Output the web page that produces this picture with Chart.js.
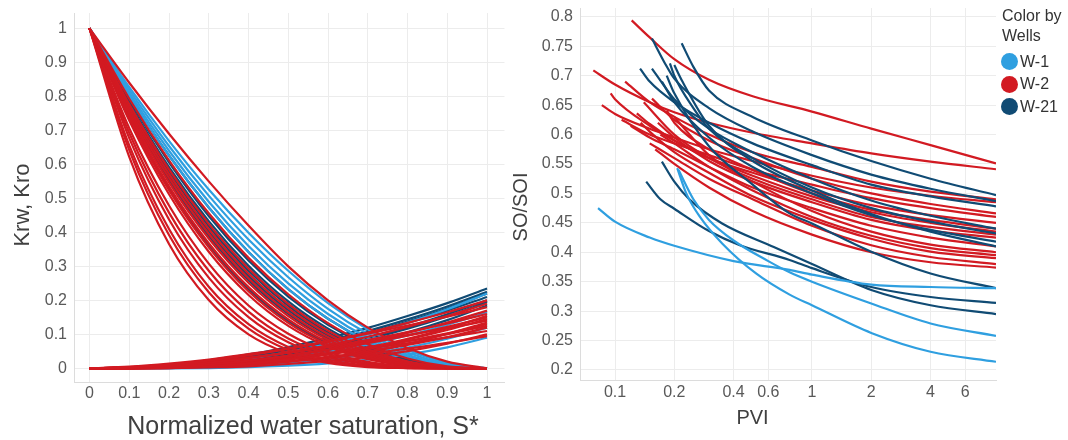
<!DOCTYPE html>
<html>
<head>
<meta charset="utf-8">
<title>Relative permeability and SO/SOI by well</title>
<script src="https://cdn.jsdelivr.net/npm/chart.js@4.4.1/dist/chart.umd.min.js"></script>
<style>
  html, body { margin: 0; padding: 0; background: #fff; }
  #wrap { position: relative; width: 1068px; height: 440px; overflow: hidden; font-family: 'Liberation Sans', Arial, sans-serif; }
  #kr-box { position: absolute; left: 0; top: 0; }
  #so-box { position: absolute; left: 500px; top: 0; }
  #legend { position: absolute; left: 1002px; top: 6px; font-size: 16px; color: #333; }
  #legend .head { line-height: 20px; }
  #legend .items { margin-top: 4.5px; }
  #legend .item { display: flex; align-items: center; height: 22.5px; margin-left: -1px; }
  #legend .dot { width: 17px; height: 17px; border-radius: 50%; margin-right: 2px; }
</style>
</head>
<body>
<div id="wrap">
  <div id="kr-box"><canvas id="kr-chart" width="510" height="440"></canvas></div>
  <div id="so-box"><canvas id="so-chart" width="568" height="440"></canvas></div>
  <div id="legend"></div>
</div>
<script>
// left chart: normalized water saturation samples and tick values
const satX = [0, 0.1, 0.2, 0.3, 0.4, 0.5, 0.6, 0.7, 0.8, 0.9, 1];
const satTicks = [0, 0.1, 0.2, 0.3, 0.4, 0.5, 0.6, 0.7, 0.8, 0.9, 1];
const kTicks = [0, 0.1, 0.2, 0.3, 0.4, 0.5, 0.6, 0.7, 0.8, 0.9, 1];

// right chart ticks
const pviTicks = [0.1, 0.2, 0.4, 0.6, 1, 2, 4, 6];
const soTicks = [0.2, 0.25, 0.3, 0.35, 0.4, 0.45, 0.5, 0.55, 0.6, 0.65, 0.7, 0.75, 0.8];

const wells = ['W-1', 'W-2', 'W-21'];

// Kro (oil) curves read at satX
const kroW1 = [
  [1, .827, .669, .526, .399, .287, .192, .115, .055, .016, 0],
  [1, .819, .654, .508, .379, .268, .175, .102, .047, .013, 0],
  [1, .81, .64, .49, .36, .25, .16, .09, .04, .01, 0],
  [1, .802, .626, .473, .342, .233, .146, .080, .034, .008, 0]
];
const kroW21 = [
  [1, .802, .626, .473, .342, .233, .146, .080, .034, .008, 0],
  [1, .789, .606, .448, .317, .211, .128, .067, .027, .006, 0],
  [1, .781, .592, .433, .302, .197, .117, .060, .023, .005, 0],
  [1, .773, .579, .418, .287, .184, .106, .053, .020, .004, 0],
  [1, .764, .566, .403, .272, .171, .097, .047, .017, .003, 0],
  [1, .756, .554, .389, .259, .160, .088, .042, .014, .002, 0],
  [1, .741, .530, .362, .233, .139, .074, .033, .010, .002, 0]
];
const kroW2 = [
  [1, .84, .69, .55, .42, .30, .20, .12, .06, .02, 0],
  [1, .793, .612, .456, .325, .218, .133, .071, .029, .006, 0],
  [1, .777, .585, .425, .294, .19, .111, .056, .021, .004, 0],
  [1, .768, .572, .410, .279, .177, .101, .049, .018, .003, 0],
  [1, .760, .560, .396, .265, .165, .092, .044, .015, .003, 0],
  [1, .752, .547, .382, .252, .154, .084, .039, .013, .002, 0],
  [1, .745, .535, .368, .239, .144, .077, .034, .011, .002, 0],
  [1, .737, .524, .356, .227, .134, .070, .031, .009, .001, 0],
  [1, .729, .512, .343, .216, .125, .064, .027, .008, .001, 0],
  [1, .706, .479, .308, .185, .102, .049, .019, .005, .001, 0],
  [1, .692, .458, .287, .167, .088, .041, .015, .004, 0, 0],
  [1, .677, .438, .267, .151, .077, .034, .012, .003, 0, 0],
  [1, .656, .410, .240, .130, .063, .026, .008, .002, 0, 0],
  [1, .642, .392, .224, .117, .054, .021, .006, .001, 0, 0],
  [1, .622, .366, .201, .100, .044, .016, .004, .001, 0, 0]
];

// Krw (water) curves read at satX
const krwW1 = [
  [0, .001, .006, .016, .029, .048, .072, .100, .135, .174, .22],
  [0, .001, .003, .009, .018, .031, .049, .070, .097, .128, .165],
  [0, 0, .001, .003, .008, .015, .026, .041, .061, .087, .12],
  [0, 0, 0, .001, .004, .008, .015, .026, .041, .062, .09]
];
const krwW21 = [
  [0, .003, .011, .024, .041, .063, .089, .119, .154, .192, .235],
  [0, .002, .009, .020, .036, .056, .081, .110, .144, .182, .225],
  [0, .002, .007, .018, .032, .051, .075, .104, .138, .176, .22],
  [0, .002, .008, .019, .034, .053, .076, .103, .134, .170, .21],
  [0, .001, .006, .014, .027, .044, .065, .091, .122, .159, .20],
  [0, .001, .005, .012, .024, .040, .060, .086, .117, .153, .195],
  [0, .001, .003, .009, .019, .033, .052, .076, .106, .142, .185]
];
const krwW2 = [
  [0, .003, .011, .023, .038, .057, .080, .105, .134, .165, .20],
  [0, .002, .008, .017, .030, .048, .068, .093, .122, .154, .19],
  [0, .005, .014, .026, .042, .059, .079, .102, .126, .152, .18],
  [0, .001, .005, .012, .023, .037, .055, .078, .104, .135, .17],
  [0, .003, .009, .018, .031, .046, .064, .084, .107, .132, .16],
  [0, 0, .002, .007, .014, .026, .041, .061, .087, .118, .155],
  [0, .002, .006, .014, .024, .038, .054, .074, .096, .122, .15],
  [0, .001, .003, .008, .016, .028, .043, .062, .085, .113, .145],
  [0, .004, .011, .020, .032, .046, .062, .079, .098, .118, .14],
  [0, 0, .001, .005, .010, .019, .032, .050, .072, .101, .135],
  [0, .001, .004, .009, .017, .028, .042, .059, .080, .103, .13],
  [0, .001, .005, .011, .020, .031, .045, .061, .080, .101, .125],
  [0, 0, .002, .006, .012, .021, .033, .049, .069, .092, .12],
  [0, .002, .006, .013, .021, .032, .044, .058, .074, .091, .11],
  [0, 0, .001, .003, .006, .013, .022, .034, .051, .073, .10],
  [0, .001, .003, .007, .013, .021, .031, .043, .058, .075, .095]
];

// SO/SOI vs PVI, [pvi, so] pairs
const soW1 = [
  [[0.082, 0.475], [0.1, 0.452], [0.15, 0.425], [0.2, 0.411], [0.4, 0.385], [0.77, 0.37], [1, 0.362], [2, 0.345], [4, 0.341], [8.6, 0.339]],
  [[0.207, 0.543], [0.23, 0.5], [0.27, 0.46], [0.35, 0.415], [0.52, 0.364], [0.77, 0.328], [1, 0.31], [2, 0.263], [4, 0.231], [8.6, 0.214]],
  [[0.21, 0.54], [0.25, 0.49], [0.3, 0.455], [0.4, 0.42], [0.6, 0.385], [0.77, 0.366], [1, 0.35], [2, 0.313], [4, 0.279], [8.6, 0.258]]
];
const soW21 = [
  [[0.218, 0.755], [0.25, 0.715], [0.3, 0.675], [0.5, 0.63], [1, 0.59], [2, 0.555], [4, 0.525], [8.6, 0.497]],
  [[0.154, 0.763], [0.18, 0.72], [0.2, 0.695], [0.3, 0.645], [0.5, 0.605], [1, 0.565], [2, 0.532], [4, 0.508], [8.6, 0.487]],
  [[0.134, 0.712], [0.15, 0.69], [0.2, 0.655], [0.3, 0.62], [0.5, 0.585], [1, 0.548], [2, 0.515], [4, 0.495], [8.6, 0.478]],
  [[0.154, 0.712], [0.18, 0.68], [0.2, 0.66], [0.3, 0.61], [0.5, 0.57], [1, 0.525], [2, 0.488], [4, 0.462], [8.6, 0.44]],
  [[0.19, 0.721], [0.2, 0.7], [0.25, 0.645], [0.3, 0.61], [0.5, 0.56], [1, 0.51], [2, 0.475], [4, 0.452], [8.6, 0.432]],
  [[0.173, 0.69], [0.2, 0.655], [0.3, 0.595], [0.5, 0.545], [1, 0.5], [2, 0.463], [4, 0.438], [8.6, 0.418]],
  [[0.2, 0.718], [0.22, 0.69], [0.3, 0.615], [0.5, 0.555], [1, 0.505], [2, 0.465], [4, 0.435], [8.6, 0.41]],
  [[0.183, 0.7], [0.2, 0.67], [0.3, 0.58], [0.5, 0.515], [0.77, 0.466], [1, 0.449], [2, 0.401], [4, 0.364], [8.6, 0.339]],
  [[0.144, 0.52], [0.17, 0.49], [0.2, 0.474], [0.3, 0.436], [0.43, 0.412], [0.77, 0.387], [1, 0.373], [2, 0.341], [4, 0.324], [8.6, 0.314]],
  [[0.173, 0.554], [0.2, 0.52], [0.24, 0.489], [0.35, 0.449], [0.64, 0.409], [1, 0.38], [2, 0.336], [4, 0.31], [8.6, 0.295]]
];
const soW2 = [
  [[0.1215, 0.794], [0.15, 0.765], [0.2, 0.728], [0.3, 0.693], [0.5, 0.665], [1, 0.639], [2, 0.61], [4, 0.582], [8.6, 0.551]],
  [[0.0776, 0.709], [0.1, 0.685], [0.15, 0.655], [0.2, 0.638], [0.3, 0.62], [0.5, 0.603], [1, 0.585], [2, 0.568], [4, 0.554], [8.6, 0.541]],
  [[0.1125, 0.69], [0.15, 0.655], [0.2, 0.63], [0.3, 0.6], [0.5, 0.57], [1, 0.545], [2, 0.52], [4, 0.503], [8.6, 0.49]],
  [[0.0857, 0.65], [0.1, 0.635], [0.15, 0.61], [0.2, 0.595], [0.3, 0.575], [0.5, 0.555], [1, 0.53], [2, 0.51], [4, 0.496], [8.6, 0.485]],
  [[0.154, 0.661], [0.2, 0.625], [0.3, 0.59], [0.5, 0.56], [1, 0.525], [2, 0.5], [4, 0.482], [8.6, 0.466]],
  [[0.108, 0.625], [0.15, 0.6], [0.2, 0.585], [0.3, 0.565], [0.5, 0.54], [1, 0.515], [2, 0.492], [4, 0.475], [8.6, 0.46]],
  [[0.129, 0.636], [0.15, 0.618], [0.2, 0.59], [0.3, 0.56], [0.5, 0.535], [1, 0.505], [2, 0.48], [4, 0.463], [8.6, 0.45]],
  [[0.183, 0.641], [0.2, 0.62], [0.3, 0.575], [0.5, 0.54], [1, 0.5], [2, 0.472], [4, 0.455], [8.6, 0.44]],
  [[0.095, 0.67], [0.1, 0.66], [0.15, 0.615], [0.2, 0.59], [0.3, 0.56], [0.5, 0.53], [1, 0.495], [2, 0.468], [4, 0.45], [8.6, 0.435]],
  [[0.14, 0.655], [0.2, 0.6], [0.3, 0.56], [0.5, 0.525], [1, 0.49], [2, 0.46], [4, 0.443], [8.6, 0.43]],
  [[0.165, 0.62], [0.2, 0.595], [0.3, 0.555], [0.5, 0.52], [1, 0.485], [2, 0.455], [4, 0.437], [8.6, 0.425]],
  [[0.12, 0.615], [0.15, 0.595], [0.2, 0.575], [0.3, 0.545], [0.5, 0.51], [1, 0.475], [2, 0.445], [4, 0.425], [8.6, 0.41]],
  [[0.2, 0.63], [0.3, 0.565], [0.5, 0.52], [1, 0.47], [2, 0.435], [4, 0.413], [8.6, 0.4]],
  [[0.17, 0.6], [0.2, 0.585], [0.3, 0.545], [0.5, 0.505], [1, 0.46], [2, 0.428], [4, 0.407], [8.6, 0.395]],
  [[0.135, 0.62], [0.15, 0.605], [0.2, 0.57], [0.3, 0.535], [0.5, 0.495], [1, 0.455], [2, 0.423], [4, 0.401], [8.6, 0.39]],
  [[0.15, 0.585], [0.2, 0.56], [0.3, 0.525], [0.5, 0.49], [1, 0.445], [2, 0.412], [4, 0.392], [8.6, 0.38]],
  [[0.16, 0.575], [0.2, 0.55], [0.3, 0.51], [0.5, 0.47], [1, 0.43], [2, 0.4], [4, 0.383], [8.6, 0.374]]
];

const colors = { 'W-1': '#2f9fe0', 'W-2': '#d21a22', 'W-21': '#104b74' };
const fontFamily = "'Liberation Sans', Arial, sans-serif";
const tickFont = { family: fontFamily, size: 16 };
const tickColor = '#595959';
const gridColor = '#ececec';
const borderColor = '#dcdcdc';

// draws the axis titles where the reference has them
const axisTitles = {
  id: 'axisTitles',
  afterDraw(chart, args, opts) {
    const ctx = chart.ctx;
    for (const t of opts.items || []) {
      ctx.save();
      ctx.font = t.font;
      ctx.fillStyle = '#404040';
      ctx.textAlign = 'center';
      ctx.textBaseline = 'middle';
      ctx.translate(t.x, t.y);
      if (t.vertical) ctx.rotate(-Math.PI / 2);
      ctx.fillText(t.text, 0, 0);
      ctx.restore();
    }
  }
};

function satLine(values, color) {
  return {
    data: values.map((v, i) => ({ x: satX[i], y: v })),
    borderColor: color, borderWidth: 2.2, pointRadius: 0,
    cubicInterpolationMode: 'monotone', fill: false
  };
}

function pviLine(pairs, color) {
  return {
    data: pairs.map(p => ({ x: p[0], y: p[1] })),
    borderColor: color, borderWidth: 2.2, pointRadius: 0,
    cubicInterpolationMode: 'monotone', fill: false
  };
}

function fixedTicks(list) {
  return s => { s.ticks = list.map(v => ({ value: v })); };
}

// dataset 0 is painted last, so the first group ends up on top
const krSets = [
  ...kroW2.map(v => satLine(v, colors['W-2'])),
  ...krwW2.map(v => satLine(v, colors['W-2'])),
  ...kroW1.map(v => satLine(v, colors['W-1'])),
  ...krwW1.map(v => satLine(v, colors['W-1'])),
  ...kroW21.map(v => satLine(v, colors['W-21'])),
  ...krwW21.map(v => satLine(v, colors['W-21']))
];

new Chart(document.getElementById('kr-chart'), {
  type: 'line',
  data: { datasets: krSets },
  options: {
    responsive: false, animation: false, events: [],
    layout: { padding: { top: 13, right: 5.5, left: 0, bottom: 0 } },
    plugins: {
      legend: { display: false }, tooltip: { enabled: false },
      axisTitles: { items: [
        { text: 'Krw, Kro', x: 23, y: 205, vertical: true, font: `22px ${fontFamily}` },
        { text: 'Normalized water saturation, S*', x: 303, y: 427, font: `25px ${fontFamily}` }
      ] }
    },
    scales: {
      x: {
        type: 'linear', min: -0.039, max: 1.044,
        afterBuildTicks: fixedTicks(satTicks),
        afterFit: s => { s.height = 58; s.paddingLeft = 0; s.paddingRight = 0; },
        grid: { color: gridColor, drawTicks: false },
        border: { color: borderColor },
        ticks: { font: tickFont, color: tickColor, padding: 2, autoSkip: false, maxRotation: 0, callback: v => String(v) }
      },
      y: {
        type: 'linear', min: -0.04, max: 1.045,
        afterBuildTicks: fixedTicks(kTicks),
        afterFit: s => { s.width = 74; s.paddingTop = 0; s.paddingBottom = 0; },
        grid: { color: gridColor, drawTicks: false },
        border: { color: borderColor },
        ticks: { font: tickFont, color: tickColor, padding: 7, autoSkip: false, callback: v => String(v) }
      }
    }
  },
  plugins: [axisTitles]
});

const soSets = [
  ...soW1.map(p => pviLine(p, colors['W-1'])),
  ...soW21.map(p => pviLine(p, colors['W-21'])),
  ...soW2.map(p => pviLine(p, colors['W-2']))
];

new Chart(document.getElementById('so-chart'), {
  type: 'line',
  data: { datasets: soSets },
  options: {
    responsive: false, animation: false, events: [],
    layout: { padding: { top: 8, right: 72, left: 0, bottom: 0 } },
    plugins: {
      legend: { display: false }, tooltip: { enabled: false },
      axisTitles: { items: [
        { text: 'SO/SOI', x: 21, y: 207, vertical: true, font: `20px ${fontFamily}` },
        { text: 'PVI', x: 252.5, y: 418, font: `20px ${fontFamily}` }
      ] }
    },
    scales: {
      x: {
        type: 'logarithmic', min: 0.0664, max: 8.6,
        afterBuildTicks: fixedTicks(pviTicks),
        afterFit: s => { s.height = 60; s.paddingLeft = 0; s.paddingRight = 0; },
        grid: { color: gridColor, drawTicks: false },
        border: { color: borderColor },
        ticks: { font: tickFont, color: tickColor, padding: 3, autoSkip: false, maxRotation: 0, callback: v => String(v) }
      },
      y: {
        type: 'linear', min: 0.183, max: 0.815,
        afterBuildTicks: fixedTicks(soTicks),
        afterFit: s => { s.width = 80; s.paddingTop = 0; s.paddingBottom = 0; },
        grid: { color: gridColor, drawTicks: false },
        border: { color: borderColor },
        ticks: { font: tickFont, color: tickColor, padding: 7, autoSkip: false, callback: v => String(v) }
      }
    }
  },
  plugins: [axisTitles]
});

// legend: "Color by Wells" with one dot per well
const legend = document.getElementById('legend');
legend.innerHTML = '<div class="head">Color by</div><div class="head">Wells</div>';
const items = document.createElement('div');
items.className = 'items';
for (const w of wells) {
  const row = document.createElement('div');
  row.className = 'item';
  row.innerHTML = `<span class="dot" style="background:${colors[w]}"></span>${w}`;
  items.appendChild(row);
}
legend.appendChild(items);
</script>
</body>
</html>
